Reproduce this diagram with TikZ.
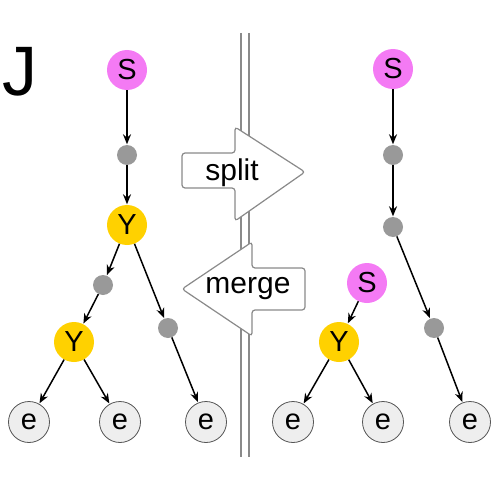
\documentclass[tikz,border=0pt]{standalone}
\usepackage{fontspec}
\setmainfont{Liberation Sans}
\usetikzlibrary{arrows.meta}
\definecolor{sfill}{HTML}{F47AF4}
\definecolor{yfill}{HTML}{FFD100}
\definecolor{efill}{HTML}{EEEEEE}
\definecolor{edraw}{HTML}{555555}
\definecolor{gfill}{HTML}{999999}
\definecolor{sepc}{HTML}{8A8A8A}
\begin{document}
\begin{tikzpicture}[x=1pt,y=-1pt,
  vtx/.style={circle,minimum size=40pt,inner sep=0pt,font=\fontsize{29}{29}\selectfont},
  snode/.style={vtx,fill=sfill},
  ynode/.style={vtx,fill=yfill},
  enode/.style={vtx,fill=efill,draw=edraw,line width=0.8pt,minimum size=41pt},
  gdot/.style={circle,minimum size=20pt,inner sep=0pt,fill=gfill},
  edge/.style={-{Stealth[length=10pt,width=8pt]},line width=1.5pt,shorten >=0.5pt},
  sep/.style={draw=sepc,line width=1.2pt},
  bigarrow/.style={draw=sepc,line width=1.2pt,fill=white,rounded corners=3pt},
  lbl/.style={font=\fontsize{30}{30}\selectfont,inner sep=0pt}
]
\useasboundingbox (0,0) rectangle (500,500);
\node[font=\fontsize{70}{70}\selectfont,inner sep=0pt] (J) at (20,72) {J};

% separator
\draw[sep] (241,33) -- (241,457);
\draw[sep] (249,33) -- (249,457);

% split arrow
\draw[bigarrow] (182,153) -- (235,153) -- (235,127) -- (305,172) -- (235,221) -- (235,188) -- (182,188) -- cycle;
\node[lbl] (split) at (232,173) {split};
% merge arrow
\draw[bigarrow] (305,268) -- (252,268) -- (252,242) -- (182,289) -- (252,336) -- (252,310) -- (305,310) -- cycle;
\node[lbl] (merge) at (248,289) {merge};

% left tree
\node[snode] (ls) at (127,70) {S};
\node[gdot] (lg1) at (127,155) {};
\node[ynode] (ly) at (127,225) {Y};
\node[gdot] (lgl) at (103,285) {};
\node[ynode] (ly2) at (74,342) {Y};
\node[gdot] (lgr) at (168,328) {};
\node[enode] (le1) at (29,422) {e};
\node[enode] (le2) at (120,422) {e};
\node[enode] (le3) at (206,422) {e};
\draw[edge] (ls) -- (lg1);
\draw[edge] (lg1) -- (ly);
\draw[edge] (ly) -- (lgl);
\draw[edge] (lgl) -- (ly2);
\draw[edge] (ly) -- (lgr);
\draw[edge] (lgr) -- (le3);
\draw[edge] (ly2) -- (le1);
\draw[edge] (ly2) -- (le2);

% right tree
\node[snode] (rs) at (393,69) {S};
\node[gdot] (rg1) at (393,155) {};
\node[gdot] (rg2) at (393,227) {};
\node[gdot] (rg3) at (434,328) {};
\node[snode] (rs2) at (367,283) {S};
\node[ynode] (ry) at (339,342) {Y};
\node[enode] (re1) at (293,422) {e};
\node[enode] (re2) at (383,422) {e};
\node[enode] (re3) at (470,422) {e};
\draw[edge] (rs) -- (rg1);
\draw[edge] (rg1) -- (rg2);
\draw[edge] (rg2) -- (rg3);
\draw[edge] (rg3) -- (re3);
\draw[edge] (rs2) -- (ry);
\draw[edge] (ry) -- (re1);
\draw[edge] (ry) -- (re2);
\end{tikzpicture}
\end{document}
